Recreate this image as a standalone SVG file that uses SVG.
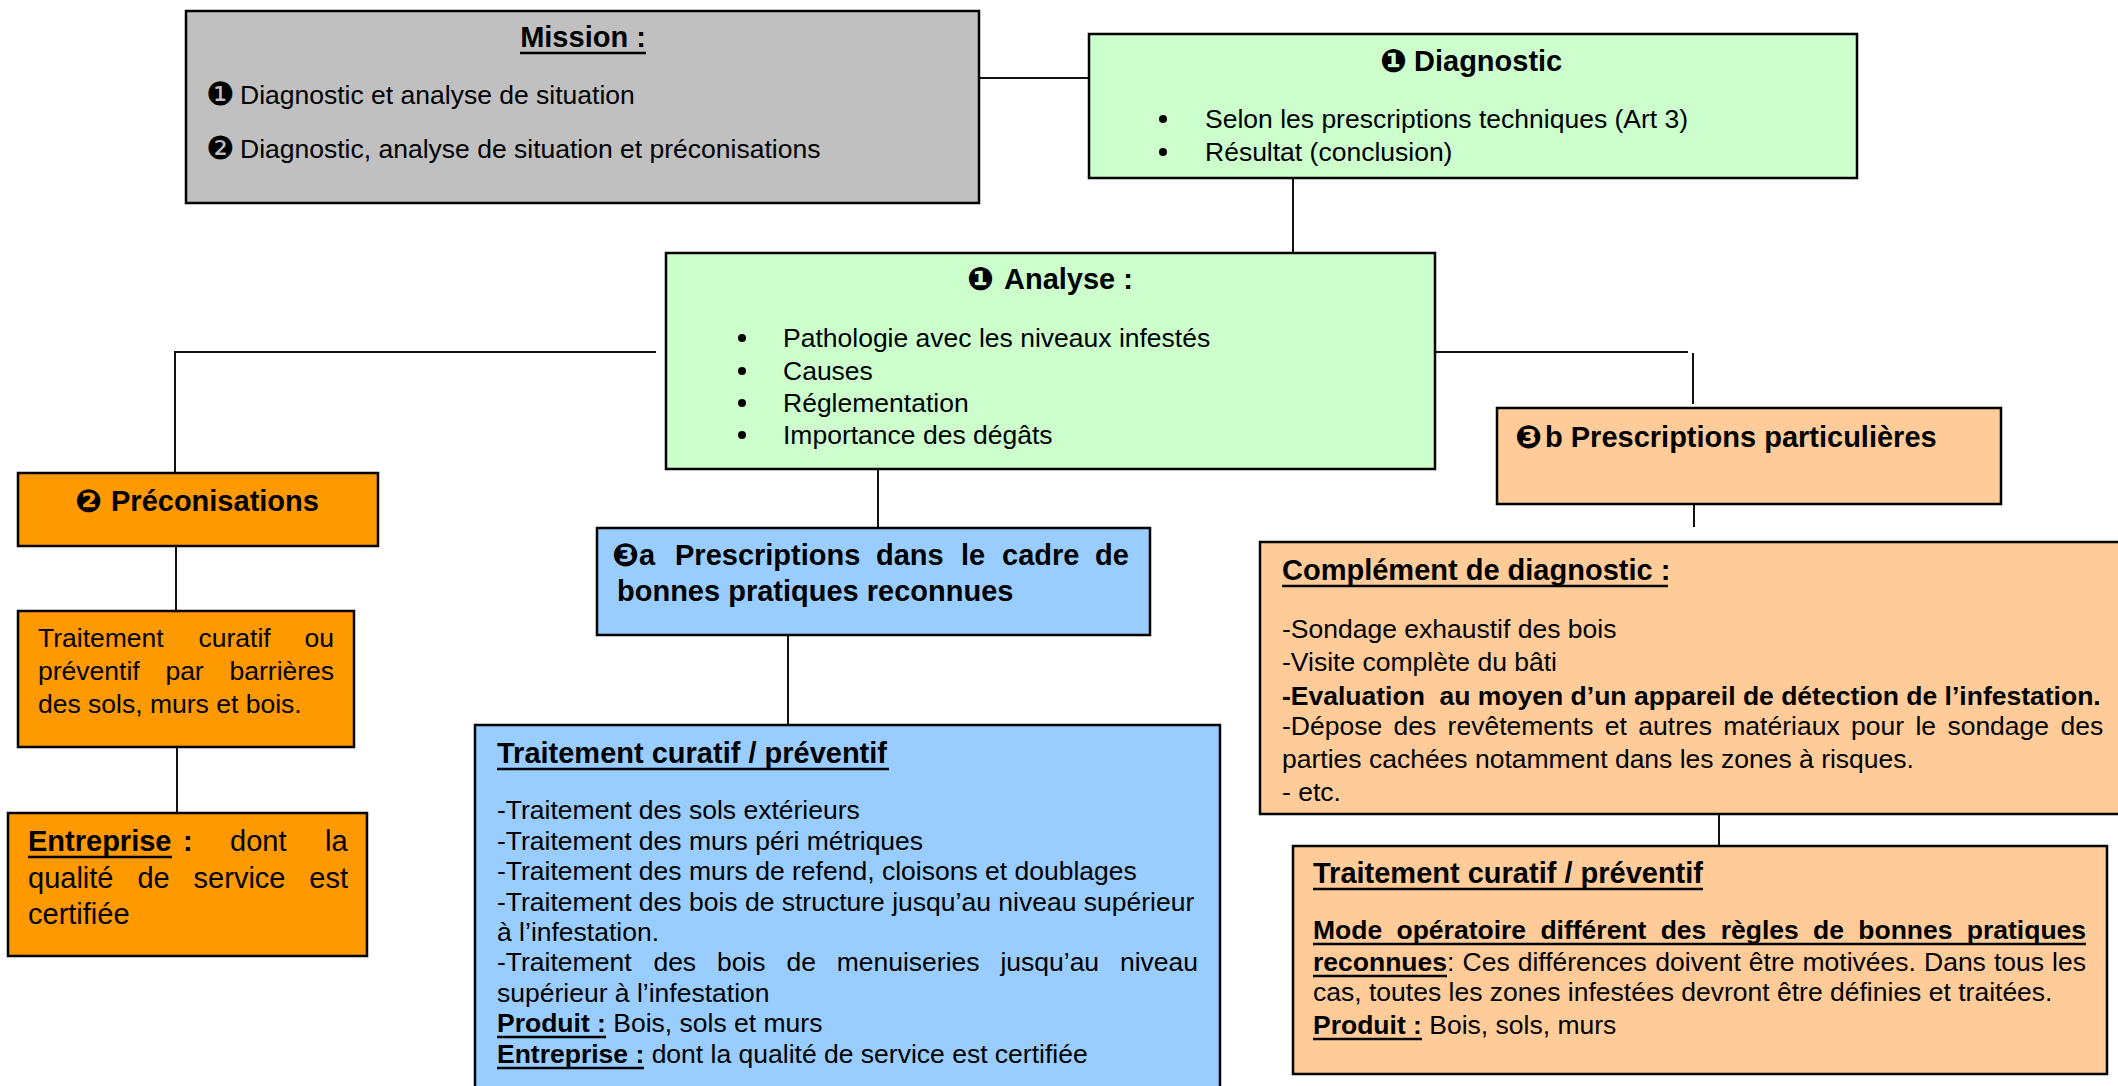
<svg xmlns="http://www.w3.org/2000/svg" width="2118" height="1086" viewBox="0 0 2118 1086">
  <style>
    .box { stroke: #000; stroke-width: 2.5; }
    .grey { fill: #C0C0C0; }
    .green { fill: #CCFFCC; }
    .orange { fill: #FF9900; }
    .blue { fill: #99CCFF; }
    .peach { fill: #FFCC99; }
    .link { fill: none; stroke: #111; stroke-width: 2; }
    text { font-family: "Liberation Sans", Arial, sans-serif; font-size: 26.5px; fill: #000; }
    .h { font-size: 29px; font-weight: bold; }
    .b { font-weight: bold; }
    .l { font-size: 29px; }
    .dg { font-family: "DejaVu Sans", sans-serif; font-size: 32px; }
    .dgb { font-family: "DejaVu Sans", sans-serif; font-size: 32px; font-weight: bold; }
    .ul { stroke: #000; stroke-width: 2.6; }
    .bul { fill: #000; }
  </style>

  <!-- connectors -->
  <g id="connectors">
    <path class="link" d="M979 78 H1089"/>
    <path class="link" d="M1293 178 V253"/>
    <path class="link" d="M656 352 H175 V473"/>
    <path class="link" d="M1435 352 H1688"/>
    <path class="link" d="M1693 353 V404"/>
    <path class="link" d="M878 469 V528"/>
    <path class="link" d="M176 546 V611"/>
    <path class="link" d="M177 747 V813"/>
    <path class="link" d="M788 635 V725"/>
    <path class="link" d="M1694 504 V527"/>
    <path class="link" d="M1719 814 V846"/>
  </g>

  <!-- Mission -->
  <g id="mission">
    <rect class="box grey" x="186" y="11" width="793" height="192"/>
    <text class="h" x="583" y="47" text-anchor="middle">Mission :</text>
    <line class="ul" x1="520" y1="53" x2="646" y2="53"/>
    <text class="dg" x="206" y="105">❶</text>
    <text x="240" y="104">Diagnostic et analyse de situation</text>
    <text class="dg" x="206" y="159">❷</text>
    <text x="240" y="158">Diagnostic, analyse de situation et préconisations</text>
  </g>

  <!-- Diagnostic -->
  <g id="diagnostic">
    <rect class="box green" x="1089" y="34" width="768" height="144"/>
    <text class="dgb" x="1380" y="72">❶</text>
    <text class="h" x="1414" y="71">Diagnostic</text>
    <circle class="bul" cx="1163" cy="119" r="4"/>
    <text x="1205" y="128">Selon les prescriptions techniques (Art 3)</text>
    <circle class="bul" cx="1163" cy="152" r="4"/>
    <text x="1205" y="161">Résultat (conclusion)</text>
  </g>

  <!-- Analyse -->
  <g id="analyse">
    <rect class="box green" x="666" y="253" width="769" height="216"/>
    <text class="dgb" x="967" y="290">❶</text>
    <text class="h" x="1004" y="289">Analyse :</text>
    <circle class="bul" cx="742" cy="338" r="4"/>
    <text x="783" y="347">Pathologie avec les niveaux infestés</text>
    <circle class="bul" cx="742" cy="371" r="4"/>
    <text x="783" y="380">Causes</text>
    <circle class="bul" cx="742" cy="403" r="4"/>
    <text x="783" y="412">Réglementation</text>
    <circle class="bul" cx="742" cy="435" r="4"/>
    <text x="783" y="444">Importance des dégâts</text>
  </g>

  <!-- Préconisations -->
  <g id="preconisations">
    <rect class="box orange" x="18" y="473" width="360" height="73"/>
    <text class="dgb" x="75" y="512">❷</text>
    <text class="h" x="111" y="511">Préconisations</text>
  </g>

  <!-- Traitement par barrières -->
  <g id="barrieres">
    <rect class="box orange" x="18" y="611" width="336" height="136"/>
    <text y="647"><tspan x="38">Traitement</tspan><tspan x="198.5">curatif</tspan><tspan x="304.5">ou</tspan></text>
    <text y="680"><tspan x="38">préventif</tspan><tspan x="165.4">par</tspan><tspan x="229.5">barrières</tspan></text>
    <text x="38" y="713">des sols, murs et bois.</text>
  </g>

  <!-- Entreprise certifiée -->
  <g id="entreprise">
    <rect class="box orange" x="8" y="813" width="359" height="143"/>
    <text class="l" y="851"><tspan class="b" x="28">Entreprise</tspan><tspan class="b" x="183">:</tspan><tspan x="230">dont</tspan><tspan x="325">la</tspan></text>
    <line class="ul" x1="28" y1="857" x2="172" y2="857"/>
    <text class="l" y="888"><tspan x="28">qualité</tspan><tspan x="137.4">de</tspan><tspan x="193.6">service</tspan><tspan x="309.3">est</tspan></text>
    <text class="l" x="28" y="924">certifiée</text>
  </g>

  <!-- 3a Prescriptions -->
  <g id="prescriptions-a">
    <rect class="box blue" x="597" y="528" width="553" height="107"/>
    <text class="dgb" x="612" y="566">❸</text>
    <text class="h" y="565"><tspan x="639">a</tspan><tspan x="675">Prescriptions</tspan><tspan x="876">dans</tspan><tspan x="961">le</tspan><tspan x="1002">cadre</tspan><tspan x="1095">de</tspan></text>
    <text class="h" x="617" y="601">bonnes pratiques reconnues</text>
  </g>

  <!-- Traitement curatif / préventif (bonnes pratiques) -->
  <g id="traitement-a">
    <rect class="box blue" x="475" y="725" width="745" height="380"/>
    <text class="h" x="497" y="763">Traitement curatif / préventif</text>
    <line class="ul" x1="497" y1="769" x2="889" y2="769"/>
    <text x="497" y="819">-Traitement des sols extérieurs</text>
    <text x="497" y="850">-Traitement des murs péri métriques</text>
    <text x="497" y="880">-Traitement des murs de refend, cloisons et doublages</text>
    <text x="497" y="911">-Traitement des bois de structure jusqu’au niveau supérieur</text>
    <text x="497" y="941">à l’infestation.</text>
    <text y="971"><tspan x="497">-Traitement</tspan><tspan x="653.4">des</tspan><tspan x="716.9">bois</tspan><tspan x="786.4">de</tspan><tspan x="836.7">menuiseries</tspan><tspan x="1000.4">jusqu’au</tspan><tspan x="1119.9">niveau</tspan></text>
    <text x="497" y="1002">supérieur à l’infestation</text>
    <text x="497" y="1032"><tspan class="b">Produit :</tspan> Bois, sols et murs</text>
    <line class="ul" x1="497" y1="1037" x2="606" y2="1037"/>
    <text x="497" y="1063"><tspan class="b">Entreprise :</tspan> dont la qualité de service est certifiée</text>
    <line class="ul" x1="497" y1="1068" x2="644" y2="1068"/>
  </g>

  <!-- 3b Prescriptions particulières -->
  <g id="prescriptions-b">
    <rect class="box peach" x="1497" y="408" width="504" height="96"/>
    <text class="dgb" x="1515" y="448">❸</text>
    <text class="h" x="1545" y="447">b Prescriptions particulières</text>
  </g>

  <!-- Complément de diagnostic -->
  <g id="complement">
    <rect class="box peach" x="1260" y="542" width="880" height="272"/>
    <text class="h" x="1282" y="580">Complément de diagnostic :</text>
    <line class="ul" x1="1282" y1="586" x2="1668" y2="586"/>
    <text x="1282" y="638">-Sondage exhaustif des bois</text>
    <text x="1282" y="671">-Visite complète du bâti</text>
    <text class="b" x="1282" y="705" xml:space="preserve">-Evaluation  au moyen d’un appareil de détection de l’infestation.</text>
    <text y="735"><tspan x="1282">-Dépose</tspan><tspan x="1393.5">des</tspan><tspan x="1447.6">revêtements</tspan><tspan x="1604.8">et</tspan><tspan x="1638.3">autres</tspan><tspan x="1723.3">matériaux</tspan><tspan x="1851">pour</tspan><tspan x="1915.4">le</tspan><tspan x="1947.4">sondage</tspan><tspan x="2060.5">des</tspan></text>
    <text x="1282" y="768">parties cachées notamment dans les zones à risques.</text>
    <text x="1282" y="801">- etc.</text>
  </g>

  <!-- Traitement curatif / préventif (mode opératoire différent) -->
  <g id="traitement-b">
    <rect class="box peach" x="1293" y="846" width="814" height="228"/>
    <text class="h" x="1313" y="883">Traitement curatif / préventif</text>
    <line class="ul" x1="1313" y1="889" x2="1703" y2="889"/>
    <text class="b" y="939"><tspan x="1313">Mode</tspan><tspan x="1396.5">opératoire</tspan><tspan x="1540.4">différent</tspan><tspan x="1660.7">des</tspan><tspan x="1720.7">règles</tspan><tspan x="1813.1">de</tspan><tspan x="1858.3">bonnes</tspan><tspan x="1966.8">pratiques</tspan></text>
    <line class="ul" x1="1313" y1="944" x2="2086" y2="944"/>
    <text y="971"><tspan class="b" x="1313">reconnues</tspan><tspan>:</tspan><tspan x="1462.5">Ces</tspan><tspan x="1517.7">différences</tspan><tspan x="1655.3">doivent</tspan><tspan x="1748.8">être</tspan><tspan x="1802.5">motivées.</tspan><tspan x="1924">Dans</tspan><tspan x="1994">tous</tspan><tspan x="2052.1">les</tspan></text>
    <line class="ul" x1="1313" y1="976" x2="1447" y2="976"/>
    <text x="1313" y="1001">cas, toutes les zones infestées devront être définies et traitées.</text>
    <text x="1313" y="1034"><tspan class="b">Produit :</tspan> Bois, sols, murs</text>
    <line class="ul" x1="1313" y1="1039" x2="1422" y2="1039"/>
  </g>
</svg>
